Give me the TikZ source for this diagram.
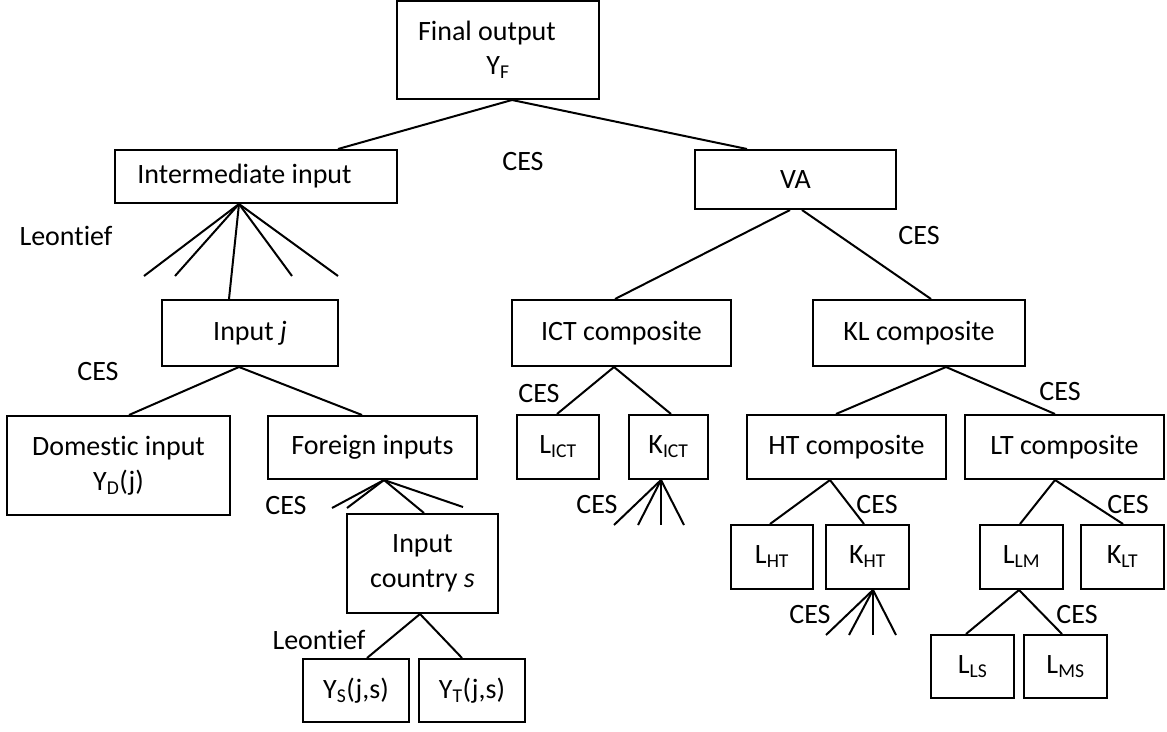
\documentclass[tikz,border=0pt]{standalone}
\usepackage{fontspec}
\setmainfont[Ligatures=NoCommon]{Carlito}
\usepackage{tikz}

\tikzset{
  blk/.style={draw, rectangle, inner sep=0pt, align=center},
  lbl/.style={inner sep=0pt}
}

\begin{document}
\begin{tikzpicture}[x=1pt, y=-1pt, line width=2pt, font=\fontsize{28}{35}\selectfont]
\useasboundingbox (0,0) rectangle (1167,731);
% boxes
\node[blk, minimum width=202pt, minimum height=98pt] (fin) at (498,50) {Final output\hspace*{22pt}\\[-1pt]Y\textsubscript{F}};
\node[blk, minimum width=282pt, minimum height=53pt] (inter) at (256,176.5) {Intermediate input\hspace*{23pt}};
\node[blk, minimum width=201pt, minimum height=59pt] (va) at (795.5,179.5) {VA};
\node[blk, minimum width=176pt, minimum height=66pt] (inpj) at (250,333) {Input \textit{j}};
\node[blk, minimum width=219pt, minimum height=66pt] (ict) at (621.5,333) {ICT composite};
\node[blk, minimum width=212pt, minimum height=66pt] (kl) at (919,333) {KL composite};
\node[blk, minimum width=223pt, minimum height=99pt] (dom) at (118.5,465.5) {Domestic input\\Y\textsubscript{D}(j)};
\node[blk, minimum width=209pt, minimum height=63pt] (forn) at (372.5,447.5) {Foreign inputs};
\node[blk, minimum width=82pt, minimum height=64pt] (lict) at (558,447) {L\textsubscript{ICT}};
\node[blk, minimum width=79pt, minimum height=64pt] (kict) at (668.5,447) {K\textsubscript{ICT}};
\node[blk, minimum width=199pt, minimum height=64pt] (ht) at (846.5,447) {HT composite};
\node[blk, minimum width=199pt, minimum height=64pt] (lt) at (1064.5,447) {LT composite};
\node[blk, minimum width=151pt, minimum height=99pt] (ctry) at (422.5,563.5) {Input\\country \textit{s}};
\node[blk, minimum width=82pt, minimum height=64pt] (lht) at (772,557) {L\textsubscript{HT}};
\node[blk, minimum width=83pt, minimum height=64pt] (kht) at (867.5,557) {K\textsubscript{HT}};
\node[blk, minimum width=83pt, minimum height=64pt] (llm) at (1021.5,557) {L\textsubscript{LM}};
\node[blk, minimum width=83pt, minimum height=64pt] (klt) at (1122.5,557) {K\textsubscript{LT}};
\node[blk, minimum width=106pt, minimum height=63pt] (ys) at (356,690.5) {Y\textsubscript{S}(j,s)};
\node[blk, minimum width=106pt, minimum height=63pt] (yt) at (472,690.5) {Y\textsubscript{T}(j,s)};
\node[blk, minimum width=83pt, minimum height=63pt] (lls) at (972.5,666.5) {L\textsubscript{LS}};
\node[blk, minimum width=83pt, minimum height=63pt] (lms) at (1065.5,666.5) {L\textsubscript{MS}};
% labels
\node[lbl] (c1) at (523,162) {CES};
\node[lbl] (c2) at (919,236) {CES};
\node[lbl] (leo1) at (66,236) {Leontief};
\node[lbl] (c3) at (98,372) {CES};
\node[lbl] (c4) at (286,506) {CES};
\node[lbl] (leo2) at (319,640) {Leontief};
\node[lbl] (c5) at (539,394) {CES};
\node[lbl] (c6) at (597,505) {CES};
\node[lbl] (c7) at (1060,392) {CES};
\node[lbl] (c8) at (877,505) {CES};
\node[lbl] (c9) at (810,615) {CES};
\node[lbl] (c10) at (1128,505) {CES};
\node[lbl] (c11) at (1077,615) {CES};
% branches
\draw ([xshift=14pt]fin.south) -- ([xshift=82pt]inter.north);
\draw ([xshift=14pt]fin.south) -- ([xshift=-48.5pt]va.north);
\draw ([xshift=-17pt]inter.south) -- ([xshift=-21pt]inpj.north);
\coordinate (interfan) at ([xshift=-17pt]inter.south);
\foreach \e in {144,175,292,338}
  \draw (interfan) -- (\e,276);
\draw ([xshift=-5.5pt]va.south) -- ([xshift=-6.5pt]ict.north);
\draw ([xshift=6.5pt]va.south) -- ([xshift=12pt]kl.north);
\draw ([xshift=-11pt]inpj.south) -- ([xshift=10.5pt]dom.north);
\draw ([xshift=-11pt]inpj.south) -- ([xshift=-10.5pt]forn.north);
\draw ([xshift=11.5pt]forn.south) -- ([xshift=1.5pt]ctry.north);
\coordinate (fornfan) at ([xshift=11.5pt]forn.south);
\draw (fornfan) -- (332,508);
\draw (fornfan) -- (347,508);
\draw (fornfan) -- (463,507);
\draw ([xshift=-2.5pt]ctry.south) -- ([xshift=11pt]ys.north);
\draw ([xshift=-2.5pt]ctry.south) -- ([xshift=-10pt]yt.north);
\draw ([xshift=-7.5pt]ict.south) -- ([xshift=-1pt]lict.north);
\draw ([xshift=-7.5pt]ict.south) -- ([xshift=2.5pt]kict.north);
\coordinate (kictfan) at ([xshift=-7.5pt]kict.south);
\foreach \e in {614,638,661,684}
  \draw (kictfan) -- (\e,525);
\draw ([xshift=27pt]kl.south) -- ([xshift=-10.5pt]ht.north);
\draw ([xshift=27pt]kl.south) -- ([xshift=-9.5pt]lt.north);
\draw ([xshift=-16.5pt]ht.south) -- ([xshift=-2pt]lht.north);
\draw ([xshift=-16.5pt]ht.south) -- ([xshift=-3.5pt]kht.north);
\coordinate (khtfan) at ([xshift=5.5pt]kht.south);
\foreach \e in {826,849,873,896}
  \draw (khtfan) -- (\e,635);
\draw ([xshift=-9.5pt]lt.south) -- ([xshift=-1.5pt]llm.north);
\draw ([xshift=-9.5pt]lt.south) -- ([xshift=0.5pt]klt.north);
\draw ([xshift=-2.5pt]llm.south) -- ([xshift=-6.5pt]lls.north);
\draw ([xshift=-2.5pt]llm.south) -- ([xshift=-3.5pt]lms.north);
\end{tikzpicture}
\end{document}
